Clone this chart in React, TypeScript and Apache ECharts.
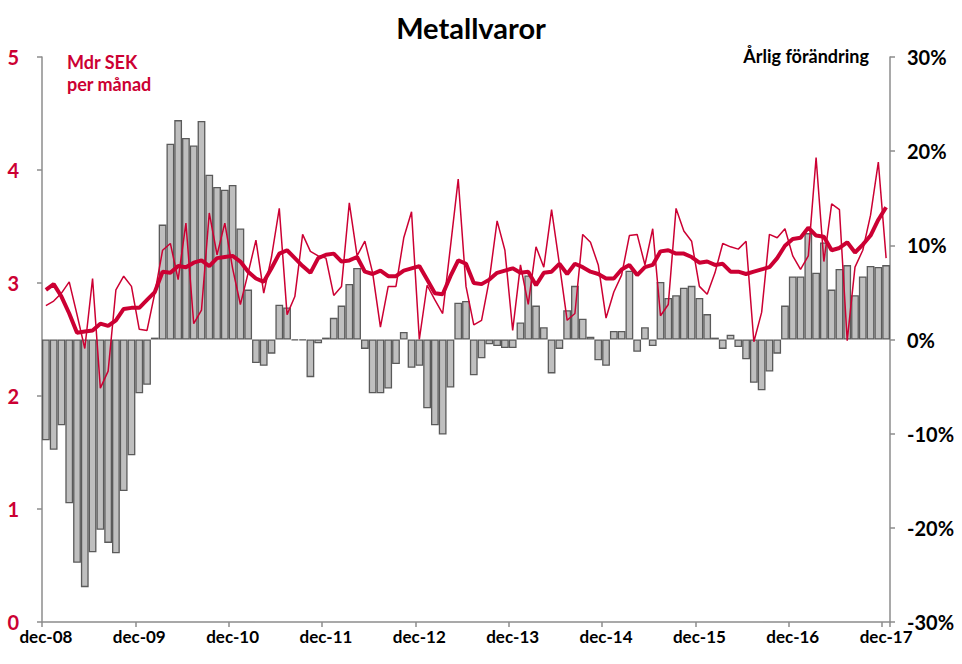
import React, { useEffect, useRef } from "react";
import * as echarts from "echarts";

const monthNames = ["jan", "feb", "mar", "apr", "maj", "jun", "jul", "aug", "sep", "okt", "nov", "dec"];
const startMonthIndex = 11; // dec
const startYear = 8; // 2008
const monthCount = 109;

const categories: string[] = [];
for (let i = 0; i < monthCount; i++) {
  const m = (startMonthIndex + i) % 12;
  const y = startYear + Math.floor((startMonthIndex + i) / 12);
  categories.push(`${monthNames[m]}-${String(y).padStart(2, "0")}`);
}

// Årlig förändring (%) – bars, right axis
const yearlyChange = [
  -10.7, -11.7, -9.1, -17.4, -23.7, -26.3, -22.6, -20.2, -21.6, -22.7, -16.1, -12.3,
  -5.7, -4.8, 0.2, 12.2, 20.8, 23.3, 21.4, 20.6, 23.2, 17.5, 16.2, 15.9,
  16.4, 11.8, 5.3, -2.5, -2.8, -1.5, 3.7, 3.4, -0.1, -0.1, -4.0, -0.4,
  0.2, 2.3, 3.6, 5.9, 7.6, -1.0, -5.7, -5.7, -5.2, -2.6, 0.8, -3.0,
  -2.8, -7.3, -9.1, -10.1, -5.1, 3.9, 4.1, -3.8, -2.0, -0.5, -0.7, -0.9,
  -0.9, 1.8, 6.8, 3.6, 1.3, -3.6, -1.0, 3.1, 5.7, 2.2, 0.3, -2.2,
  -2.8, 0.9, 0.9, 7.3, -1.3, 1.3, -0.7, 6.1, 4.4, 4.7, 5.5, 5.7,
  4.4, 2.7, 0.2, -1.0, 0.5, -0.8, -2.1, -4.6, -5.4, -3.4, -1.5, 3.6,
  6.7, 6.7, 11.3, 7.1, 10.3, 5.3, 7.5, 7.9, 4.7, 6.7, 7.8, 7.7,
  7.9,
];

// Mdr SEK per månad – thin line, left axis
const monthlyValue = [
  2.80, 2.84, 2.91, 3.01, 2.72, 2.42, 3.04, 2.07, 2.22, 2.94, 3.06, 2.97,
  2.59, 2.58, 2.91, 3.29, 3.35, 3.03, 3.53, 2.64, 2.76, 3.62, 3.25, 3.53,
  3.13, 2.81, 3.09, 3.38, 2.91, 3.23, 3.66, 2.72, 2.88, 3.43, 3.28, 3.24,
  3.22, 2.89, 2.97, 3.71, 3.24, 3.37, 3.09, 2.61, 2.97, 2.97, 3.40, 3.63,
  2.50, 2.98, 2.85, 2.73, 3.32, 3.92, 2.97, 2.63, 2.67, 3.03, 3.55, 3.29,
  2.58, 3.16, 2.81, 3.32, 3.14, 3.65, 3.17, 2.67, 2.73, 3.43, 3.36, 3.16,
  2.69, 2.92, 3.07, 3.42, 3.43, 3.16, 3.48, 2.71, 2.81, 3.66, 3.46, 3.37,
  2.97, 2.90, 3.09, 3.35, 3.32, 3.30, 3.37, 2.48, 2.74, 3.43, 3.40, 3.48,
  3.24, 3.12, 3.24, 4.11, 3.19, 3.70, 3.65, 2.49, 3.14, 3.29, 3.60, 4.07,
  3.22,
];

// Trend (Mdr SEK) – thick line, left axis
const trendValue = [
  2.94, 2.99, 2.88, 2.73, 2.56, 2.57, 2.58, 2.64, 2.62, 2.67, 2.77, 2.78,
  2.78, 2.85, 2.92, 3.10, 3.09, 3.15, 3.14, 3.18, 3.20, 3.15, 3.22, 3.23,
  3.24, 3.19, 3.10, 3.04, 3.01, 3.13, 3.26, 3.29, 3.22, 3.15, 3.09, 3.22,
  3.25, 3.26, 3.19, 3.20, 3.23, 3.10, 3.08, 3.11, 3.06, 3.06, 3.11, 3.13,
  3.15, 3.03, 2.91, 2.90, 3.06, 3.20, 3.17, 3.00, 2.99, 3.03, 3.09, 3.11,
  3.13, 3.09, 3.10, 2.98, 3.09, 3.10, 3.17, 3.08, 3.17, 3.14, 3.10, 3.08,
  3.04, 3.04, 3.12, 3.16, 3.07, 3.14, 3.16, 3.28, 3.29, 3.26, 3.26, 3.23,
  3.18, 3.19, 3.16, 3.17, 3.10, 3.10, 3.08, 3.10, 3.12, 3.14, 3.22, 3.33,
  3.39, 3.40, 3.49, 3.42, 3.41, 3.29, 3.31, 3.36, 3.27, 3.34, 3.42, 3.56,
  3.67,
];

const RED = "#cc0033";
const FONT = "Lato, 'Open Sans', sans-serif";
const AXIS_GRAY = "#8c8c8c";

export default function App() {
  const ref = useRef<HTMLDivElement>(null);

  useEffect(() => {
    if (!ref.current) return;
    const chart = echarts.init(ref.current, undefined, { renderer: "svg" });
    chart.setOption({
      animation: false,
      backgroundColor: "#ffffff",
      textStyle: { fontFamily: FONT },
      grid: { left: 42, right: 72, top: 57, bottom: 42, containLabel: false },
      graphic: [
        {
          type: "text",
          x: 471,
          y: 27,
          style: {
            text: "Metallvaror",
            font: `bold 29px ${FONT}`,
            fill: "#000",
            textAlign: "center",
            textVerticalAlign: "middle",
          },
        },
        {
          type: "text",
          x: 67,
          y: 51,
          style: {
            text: "Mdr SEK\nper månad",
            font: `bold 18px ${FONT}`,
            lineHeight: 22,
            fill: RED,
            textAlign: "left",
            textVerticalAlign: "top",
          },
        },
        {
          type: "text",
          x: 869,
          y: 56,
          style: {
            text: "Årlig förändring",
            font: `bold 18px ${FONT}`,
            fill: "#000",
            textAlign: "right",
            textVerticalAlign: "middle",
          },
        },
      ],
      xAxis: {
        type: "category",
        data: categories,
        boundaryGap: true,
        axisLine: { show: true, lineStyle: { color: AXIS_GRAY, width: 1.5 } },
        axisTick: {
          show: true,
          interval: 11,
          alignWithLabel: false,
          length: 5,
          lineStyle: { color: AXIS_GRAY, width: 1.5 },
        },
        axisLabel: {
          interval: 11,
          color: "#000",
          fontWeight: "bold",
          fontSize: 17,
          fontFamily: FONT,
          margin: 6,
        },
        splitLine: { show: false },
      },
      yAxis: [
        {
          type: "value",
          min: 0,
          max: 5,
          interval: 1,
          position: "left",
          axisLine: { show: true, lineStyle: { color: AXIS_GRAY, width: 1.5 } },
          axisTick: { show: true, length: 5, lineStyle: { color: AXIS_GRAY, width: 1.5 } },
          axisLabel: {
            color: RED,
            fontWeight: "bold",
            fontSize: 20,
            fontFamily: FONT,
            margin: 23,
          },
          splitLine: { show: false },
        },
        {
          type: "value",
          min: -30,
          max: 30,
          interval: 10,
          position: "right",
          axisLine: { show: true, lineStyle: { color: AXIS_GRAY, width: 1.5 } },
          axisTick: { show: true, length: 5, lineStyle: { color: AXIS_GRAY, width: 1.5 } },
          axisLabel: {
            color: "#000",
            fontWeight: "bold",
            fontSize: 20,
            fontFamily: FONT,
            margin: 17,
            formatter: (v: number) => `${v}%`,
          },
          splitLine: { show: false },
        },
      ],
      series: [
        {
          name: "Årlig förändring",
          type: "bar",
          yAxisIndex: 1,
          data: yearlyChange,
          barCategoryGap: "0%",
          itemStyle: { color: "#bfbfbf", borderColor: "#5a5a5a", borderWidth: 1.3 },
        },
        {
          name: "Mdr SEK",
          type: "line",
          yAxisIndex: 0,
          data: monthlyValue,
          symbol: "none",
          lineStyle: { color: RED, width: 1.5 },
        },
        {
          name: "Trend",
          type: "line",
          yAxisIndex: 0,
          data: trendValue,
          symbol: "none",
          lineStyle: { color: RED, width: 4 },
        },
      ],
    });
    return () => chart.dispose();
  }, []);

  return (
    <div
      ref={ref}
      style={{ position: "fixed", left: 0, top: 0, width: 962, height: 664, background: "#fff" }}
    />
  );
}
